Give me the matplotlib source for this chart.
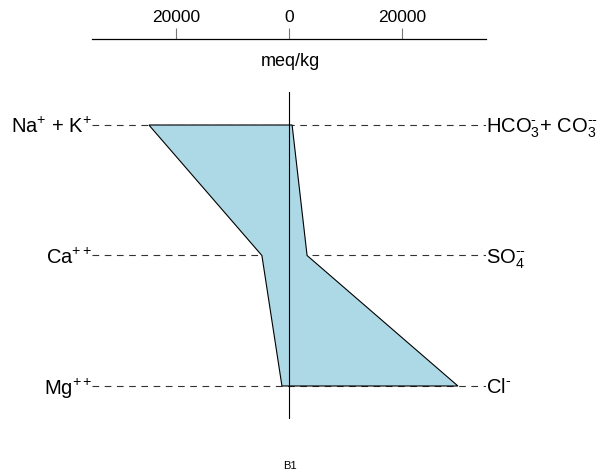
import matplotlib
matplotlib.use("Agg")
import matplotlib.pyplot as plt
import matplotlib.ticker as ticker

plt.rcParams['font.family'] = ['Liberation Sans', 'DejaVu Sans']
plt.rcParams['mathtext.fontset'] = 'custom'
plt.rcParams['mathtext.rm'] = 'Liberation Sans'
plt.rcParams['mathtext.it'] = 'Liberation Sans'
plt.rcParams['mathtext.default'] = 'rm'

# stiff diagram values, meq/kg
cations = ["Na$^{+}$ + K$^{+}$", "Ca$^{++}$", "Mg$^{++}$"]
anions = ["HCO$_{3}^{\u2010}$+ CO$_{3}^{\u2010\u2010}$", "SO$_{4}^{\u2010\u2010}$", "Cl$^{\u2010}$"]
cation_vals = [24800, 4800, 1250]
anion_vals = [550, 3200, 29900]
sample = "B1"
xmax = 34870

fig = plt.figure(figsize=(6.04, 4.74), dpi=100)
ax = fig.add_axes([92/604, 1-419/474, 394/604, 380/474])

rows = [3, 2, 1]
for r in rows:
    ax.plot([-xmax, xmax], [r, r], color='#333333', lw=0.8, ls=(0, (6, 5)), zorder=1)

xs = [-v for v in cation_vals] + anion_vals[::-1]
ys = rows + rows[::-1]
ax.fill(xs, ys, facecolor='lightblue', edgecolor='black', lw=0.8, zorder=2)
ax.plot([0, 0], [0.75, 3.25], color='black', lw=0.8, zorder=3)

ax.set_xlim(-xmax, xmax)
ax.set_ylim(0.747, 3.659)
for s in ['bottom', 'left', 'right']:
    ax.spines[s].set_visible(False)
ax.spines['top'].set_linewidth(0.9)
ax.xaxis.tick_top()
ax.set_xticks([-20000, 0, 20000])
ax.xaxis.set_major_formatter(ticker.FuncFormatter(lambda v, p: "%d" % abs(v)))
ax.tick_params(axis='x', length=8, width=0.8, color='#777777', labelsize=12.5, pad=2)
ax.set_yticks([])

for r, lab in zip(rows, cations):
    ax.text(-xmax, r, lab, ha='right', va='center_baseline', fontsize=14.5)
for r, lab in zip(rows, anions):
    ax.text(xmax, r, lab, ha='left', va='center_baseline', fontsize=14.5)

fig.text(290/604, 1-62/474, "meq/kg", ha='center', va='center', fontsize=13)
fig.text(290/604, 1-466/474, sample, ha='center', va='center', fontsize=8)

fig.savefig("out.png", dpi=100)
